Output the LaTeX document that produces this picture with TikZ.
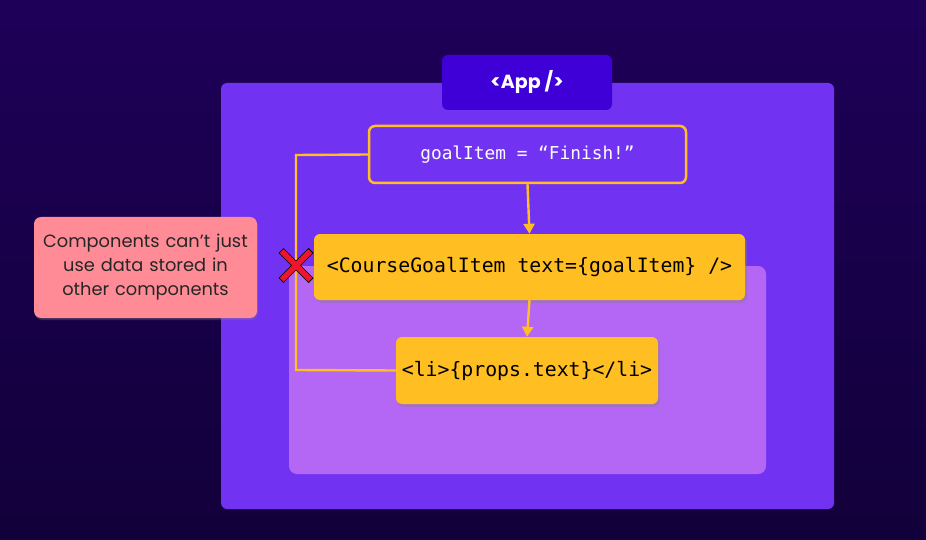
\documentclass[tikz,border=0pt]{standalone}
\usepackage{fontspec}
\setmainfont{Poppins}
\setmonofont{DejaVu Sans Mono}
\usetikzlibrary{arrows.meta}
\usetikzlibrary{shadows}
\definecolor{bgtop}{HTML}{1E0058}
\definecolor{bgbot}{HTML}{12003A}
\definecolor{appviolet}{HTML}{7232F2}
\definecolor{appdark}{HTML}{3F00D8}
\definecolor{lilac}{HTML}{B466F4}
\definecolor{gold}{HTML}{FFBE22}
\definecolor{notepink}{HTML}{FF8B96}
\definecolor{crossred}{HTML}{F0142C}
\tikzset{
  codebox/.style={rectangle, fill=gold, rounded corners=6pt, inner sep=0pt,
    font=\ttfamily\fontsize{19.8}{22}\selectfont, text=black,
    drop shadow={opacity=0.35, shadow xshift=2pt, shadow yshift=-3pt}},
  wire/.style={draw=gold, line width=2.4pt},
}

\begin{document}
\begin{tikzpicture}[x=1pt,y=-1pt,>={Triangle[width=11pt,length=10pt]}]
  \useasboundingbox (0,0) rectangle (926,540);
  % background
  \shade[top color=bgtop, bottom color=bgbot] (0,0) rectangle (926,540);

  % component frames
  \fill[appviolet, rounded corners=6pt] (221,83) rectangle (834,509);
  \fill[lilac, rounded corners=8pt] (289,266) rectangle (766,474);
  \node[fill=appdark, rounded corners=6pt, minimum width=170pt, minimum height=55pt,
        text=white, font=\bfseries\fontsize{19}{22}\selectfont] (app) at (527,82.5) {<App />};

  % state and components
  \node[draw=gold, line width=2.5pt, fill=appviolet, rounded corners=6pt,
        minimum width=317pt, minimum height=57pt, text=white,
        font=\ttfamily\fontsize{17.8}{20}\selectfont] (goal) at (527.5,154.5) {goalItem = “Finish!”};
  \node[codebox, minimum width=431pt, minimum height=66pt] (cgi) at (529.5,267) {<CourseGoalItem text=\{goalItem\} />};
  \node[codebox, minimum width=262pt, minimum height=67pt] (li) at (527,370.5) {<li>\{props.text\}</li>};

  \coordinate (bendtop) at (296,155);
  \coordinate (bendbot) at (296,370);

  \draw[wire] (goal.west) -- (bendtop) -- (bendbot) -- (li.west);
  \draw[wire,->] (goal.south) -- (cgi.north);
  \draw[wire,->] (cgi.south) -- (li.north);

  % the cross
  \coordinate (cross) at (296,265.5);
  \draw[black, line width=7pt] ([shift={(-15,-15)}]cross) -- ([shift={(15,15)}]cross)
                               ([shift={(-15,15)}]cross) -- ([shift={(15,-15)}]cross);
  \draw[crossred, line width=5.5pt] ([shift={(-14.3,-14.3)}]cross) -- ([shift={(14.3,14.3)}]cross)
                                  ([shift={(-14.3,14.3)}]cross) -- ([shift={(14.3,-14.3)}]cross);

  % note
  \node[fill=notepink, rounded corners=7pt, minimum width=223pt, minimum height=101pt,
        text width=215pt, align=center, text=black!85,
        font=\fontsize{17.8}{24}\selectfont,
        drop shadow={opacity=0.3, shadow xshift=1pt, shadow yshift=-2pt}]
        (note) at (145.5,267.5) {Components can’t just\\use data stored in\\other components};
\end{tikzpicture}
\end{document}
